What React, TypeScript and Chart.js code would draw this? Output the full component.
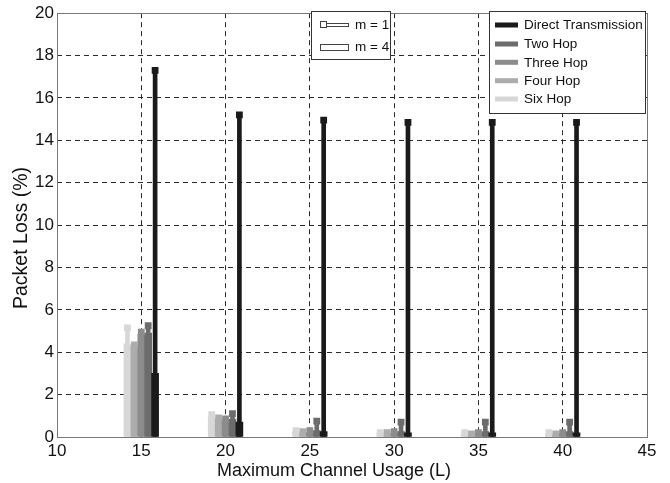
import { useEffect, useRef } from "react";
import { Chart, registerables } from "chart.js";

Chart.register(...registerables);

// Maximum channel usage levels (L) on the x axis
const usageLevels = [15, 20, 25, 30, 35, 40];
const xTicks = [10, 15, 20, 25, 30, 35, 40, 45];
const yTicks = [0, 2, 4, 6, 8, 10, 12, 14, 16, 18, 20];

const seriesNames = ["Direct Transmission", "Two Hop", "Three Hop", "Four Hop", "Six Hop"];
const seriesColors = ["#1a1a1a", "#6c6c6c", "#8c8c8c", "#acacac", "#d7d7d7"];
// position of each hop series inside a group, in x units
const seriesOffsets = [0.82, 0.41, 0, -0.41, -0.82];

// packet loss (%) for m = 4 (wide bars)
const directM4 = [3.0, 0.7, 0.25, 0.2, 0.2, 0.2];
const twoHopM4 = [4.9, 0.85, 0.3, 0.25, 0.25, 0.25];
const threeHopM4 = [4.85, 0.8, 0.2, 0.15, 0.15, 0.15];
const fourHopM4 = [4.3, 0.85, 0.2, 0.15, 0.12, 0.12];
const sixHopM4 = [4.4, 0.95, 0.25, 0.2, 0.15, 0.15];

// packet loss (%) for m = 1 (thin stems with square caps)
const directM1 = [17.3, 15.2, 14.95, 14.85, 14.85, 14.85];
const twoHopM1 = [5.25, 1.1, 0.75, 0.7, 0.7, 0.7];
const threeHopM1 = [4.95, 0.85, 0.3, 0.25, 0.2, 0.2];
const fourHopM1 = [4.35, 0.9, 0.25, 0.2, 0.15, 0.15];
const sixHopM1 = [5.15, 1.05, 0.3, 0.2, 0.2, 0.2];

const m4Series = [directM4, twoHopM4, threeHopM4, fourHopM4, sixHopM4];
const m1Series = [directM1, twoHopM1, threeHopM1, fourHopM1, sixHopM1];

const xTitle = "Maximum Channel Usage (L)";
const yTitle = "Packet Loss (%)";
const mLabels = ["m = 1", "m = 4"];

const FONT = '"Liberation Sans", Arial, Helvetica, sans-serif';

const decorations = {
  id: "decorations",
  afterDatasetsDraw(chart: any) {
    const { ctx, chartArea } = chart;
    const { left, right, top, bottom } = chartArea;
    ctx.save();
    // axes box
    ctx.strokeStyle = "#777777";
    ctx.lineWidth = 1;
    ctx.strokeRect(Math.round(left) + 0.5, Math.round(top) + 0.5, Math.round(right - left), Math.round(bottom - top));

    // m legend
    ctx.fillStyle = "#ffffff";
    ctx.fillRect(311.5, 11.5, 79, 48);
    ctx.strokeStyle = "#333333";
    ctx.strokeRect(311.5, 11.5, 79, 48);
    ctx.strokeStyle = "#444444";
    ctx.strokeRect(320.5, 21.5, 6, 6);
    ctx.strokeRect(326.5, 23.5, 22, 3);
    ctx.strokeRect(320.5, 44.5, 28, 6);
    ctx.fillStyle = "#111111";
    ctx.font = `13.5px ${FONT}`;
    ctx.textBaseline = "middle";
    ctx.textAlign = "left";
    ctx.fillText(mLabels[0], 355, 25.5);
    ctx.fillText(mLabels[1], 355, 47.5);

    // hop legend
    ctx.fillStyle = "#ffffff";
    ctx.fillRect(489.5, 11.5, 156, 102);
    ctx.strokeStyle = "#333333";
    ctx.strokeRect(489.5, 11.5, 156, 102);
    const rowY = [25, 44, 62.3, 80.7, 99];
    seriesNames.forEach((name, i) => {
      ctx.fillStyle = seriesColors[i];
      ctx.fillRect(495, rowY[i] - 2.5, 23, 5);
      ctx.fillStyle = "#111111";
      ctx.fillText(name, 524, rowY[i] + 0.5);
    });

    // axis titles
    ctx.fillStyle = "#111111";
    ctx.textAlign = "center";
    ctx.font = `18px ${FONT}`;
    ctx.fillText(xTitle, 334, 471);
    ctx.translate(22, 238);
    ctx.rotate(-Math.PI / 2);
    ctx.font = `19.5px ${FONT}`;
    ctx.fillText(yTitle, 0, 0);
    ctx.restore();
  },
};

export default function App() {
  const canvasRef = useRef<HTMLCanvasElement | null>(null);

  useEffect(() => {
    const canvas = canvasRef.current;
    if (!canvas) return;

    const datasets: any[] = [];
    seriesNames.forEach((name, i) => {
      const off = seriesOffsets[i];
      datasets.push({
        type: "bar",
        label: `${name} (m = 4)`,
        data: usageLevels.map((L, k) => ({ x: L + off, y: m4Series[i][k] })),
        backgroundColor: seriesColors[i],
        barThickness: 7,
        grouped: false,
        order: 3,
      });
      datasets.push({
        type: "bar",
        label: `${name} (m = 1)`,
        data: usageLevels.map((L, k) => ({ x: L + off, y: m1Series[i][k] })),
        backgroundColor: seriesColors[i],
        barThickness: 4,
        grouped: false,
        order: 2,
      });
      datasets.push({
        type: "scatter",
        label: `${name} (m = 1) cap`,
        data: usageLevels.map((L, k) => ({ x: L + off, y: m1Series[i][k] })),
        backgroundColor: seriesColors[i],
        borderWidth: 0,
        pointStyle: "rect",
        pointRadius: 4.8,
        order: 1,
      });
    });

    const chart = new Chart(canvas, {
      type: "bar",
      data: { datasets },
      options: {
        responsive: false,
        animation: false,
        events: [],
        layout: { padding: { left: 0, right: 23, top: 12, bottom: 0 } },
        plugins: { legend: { display: false }, tooltip: { enabled: false } },
        scales: {
          x: {
            type: "linear",
            min: 10,
            max: 45,
            offset: false,
            afterFit: (s: any) => {
              s.height = 46;
            },
            afterBuildTicks: (s: any) => {
              s.ticks = xTicks.map((v) => ({ value: v }));
            },
            grid: {
              offset: false,
              drawTicks: false,
              lineWidth: 1,
              color: (c: any) =>
                c.tick && (c.tick.value === 10 || c.tick.value === 45) ? "rgba(0,0,0,0)" : "#2a2a2a",
            },
            border: { display: false, dash: [5, 4] },
            ticks: {
              padding: 4,
              color: "#111111",
              font: { family: FONT, size: 17 },
              maxRotation: 0,
            },
          },
          y: {
            type: "linear",
            min: 0,
            max: 20,
            afterFit: (s: any) => {
              s.width = 57;
            },
            afterBuildTicks: (s: any) => {
              s.ticks = yTicks.map((v) => ({ value: v }));
            },
            grid: {
              drawTicks: false,
              lineWidth: 1,
              color: (c: any) =>
                c.tick && (c.tick.value === 0 || c.tick.value === 20) ? "rgba(0,0,0,0)" : "#2a2a2a",
            },
            border: { display: false, dash: [5, 4] },
            ticks: {
              padding: 3,
              color: "#111111",
              font: { family: FONT, size: 17 },
            },
          },
        },
      },
      plugins: [decorations],
    } as any);

    return () => chart.destroy();
  }, []);

  return (
    <div style={{ position: "fixed", left: 0, top: 0, width: 670, height: 483, background: "#ffffff" }}>
      <canvas ref={canvasRef} width={670} height={483} style={{ display: "block" }} />
    </div>
  );
}
